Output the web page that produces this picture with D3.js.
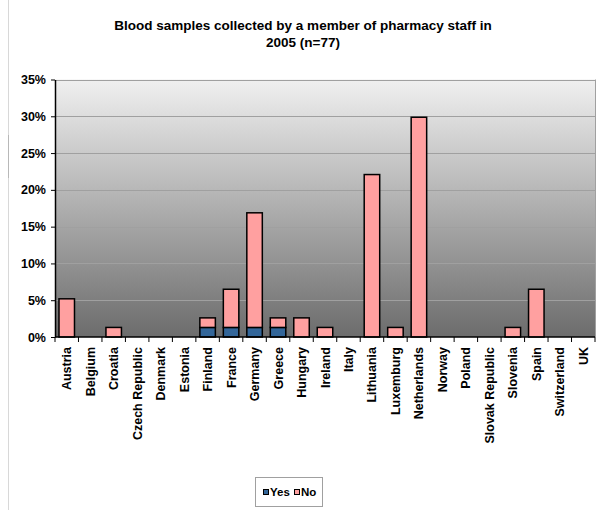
<!DOCTYPE html>
<html><head><meta charset="utf-8">
<script src="https://cdn.jsdelivr.net/npm/d3@7"></script>
<style>body{margin:0;background:#fff}svg{display:block;font-family:"Liberation Sans",Arial,sans-serif}</style>
</head><body>
<script>
const categories = ["Austria","Belgium","Croatia","Czech Republic","Denmark","Estonia","Finland","France","Germany","Greece","Hungary","Ireland","Italy","Lithuania","Luxemburg","Netherlands","Norway","Poland","Slovak Republic","Slovenia","Spain","Switzerland","UK"];
const yesValues = [0,0,0,0,0,0,1.3,1.3,1.3,1.3,0,0,0,0,0,0,0,0,0,0,0,0,0];
const noValues  = [5.19,0,1.3,0,0,0,1.3,5.19,15.58,1.3,2.6,1.3,0,22.08,1.3,29.87,0,0,0,1.3,6.49,0,0];
const yTicks = [0,5,10,15,20,25,30,35];
const seriesNames = ["Yes","No"];
const seriesColors = ["#336699","#FFA0A0"];

const W=606,H=510;
const svg=d3.select("body").append("svg").attr("width",W).attr("height",H);
const m={l:55,r:595,t:79.5,b:337};
const x=d3.scaleBand().domain(categories).range([m.l,m.r]).paddingInner(0.34).paddingOuter(0.17);
const y=d3.scaleLinear().domain([0,35]).range([m.b,m.t]);

svg.append("line").attr("x1",8.5).attr("x2",8.5).attr("y1",0).attr("y2",H).attr("stroke","#d8d8d8").attr("stroke-width",1);
svg.append("line").attr("x1",8.5).attr("x2",8.5).attr("y1",135).attr("y2",178).attr("stroke","#b8b8b8").attr("stroke-width",1);

const defs=svg.append("defs");
const g=defs.append("linearGradient").attr("id","bg").attr("x1",0).attr("y1",0).attr("x2",0).attr("y2",1);
g.append("stop").attr("offset","0%").attr("stop-color","#f0f0f0");
g.append("stop").attr("offset","100%").attr("stop-color","#6c6c6c");
svg.append("rect").attr("x",m.l).attr("y",m.t).attr("width",m.r-m.l).attr("height",m.b-m.t).attr("fill","url(#bg)");

// gridlines
svg.append("g").selectAll("line").data(yTicks.slice(1)).join("line")
 .attr("x1",m.l).attr("x2",m.r).attr("y1",d=>Math.round(y(d))+0.5).attr("y2",d=>Math.round(y(d))+0.5)
 .attr("stroke","#a0a0a0").attr("stroke-width",1);
svg.append("line").attr("x1",m.r+0.5).attr("x2",m.r+0.5).attr("y1",m.t).attr("y2",m.b).attr("stroke","#a0a0a0");

// stacked bars
const data=categories.map((c,i)=>({cat:c,Yes:yesValues[i],No:noValues[i]}));
const stack=d3.stack().keys(seriesNames)(data);
stack.forEach((s,si)=>{
  svg.append("g").selectAll("rect").data(s.filter(d=>d[1]-d[0]>0)).join("rect")
   .attr("x",d=>x(d.data.cat)).attr("width",x.bandwidth())
   .attr("y",d=>y(d[1])).attr("height",d=>y(d[0])-y(d[1]))
   .attr("fill",seriesColors[si]).attr("stroke","#000").attr("stroke-width",1.5);
});

// y axis
const ya=svg.append("g").attr("transform",`translate(${m.l},0)`)
 .call(d3.axisLeft(y).tickValues(yTicks).tickFormat(d=>d+"%").tickSize(4).tickSizeOuter(0));
ya.select(".domain").attr("stroke","#000").attr("stroke-width",1.5);
ya.selectAll(".tick text").attr("font-size",12.5).attr("font-weight","bold").attr("fill","#000").attr("x",-9).attr("font-family","Liberation Sans, Arial, sans-serif");

// x axis
const xa=svg.append("g").attr("transform",`translate(0,${m.b})`);
xa.append("line").attr("x1",m.l).attr("x2",m.r).attr("y1",0).attr("y2",0).attr("stroke","#000").attr("stroke-width",1.5);
xa.selectAll(".tk").data(d3.range(categories.length+1)).join("line")
 .attr("x1",i=>m.l+i*(m.r-m.l)/categories.length).attr("x2",i=>m.l+i*(m.r-m.l)/categories.length)
 .attr("y1",0).attr("y2",5).attr("stroke","#000");
xa.selectAll("text").data(categories).join("text")
 .attr("transform",d=>`translate(${x(d)+x.bandwidth()/2+4.5},10) rotate(-90)`)
 .attr("text-anchor","end").attr("font-size",12.5).attr("font-weight","bold").text(d=>d);

// title
const t=svg.append("text").attr("x",303).attr("text-anchor","middle").attr("font-size",13.5).attr("font-weight","bold");
t.append("tspan").attr("x",303).attr("y",30).text("Blood samples collected by a member of pharmacy staff in");
t.append("tspan").attr("x",303).attr("y",47).text("2005 (n=77)");

// legend
const lg=svg.append("g");
lg.append("rect").attr("x",255.5).attr("y",477.5).attr("width",67).attr("height",29).attr("fill","#fff").attr("stroke","#a0a0a0");
const items=[{n:"Yes",x:263},{n:"No",x:294}];
items.forEach((it,i)=>{
  lg.append("rect").attr("x",it.x+0.5).attr("y",489.5).attr("width",5).attr("height",5).attr("fill",seriesColors[i]).attr("stroke","#000");
  lg.append("text").attr("x",it.x+7).attr("y",496).attr("font-size",11.5).attr("font-weight","bold").text(it.n);
});
</script>
</body></html>
